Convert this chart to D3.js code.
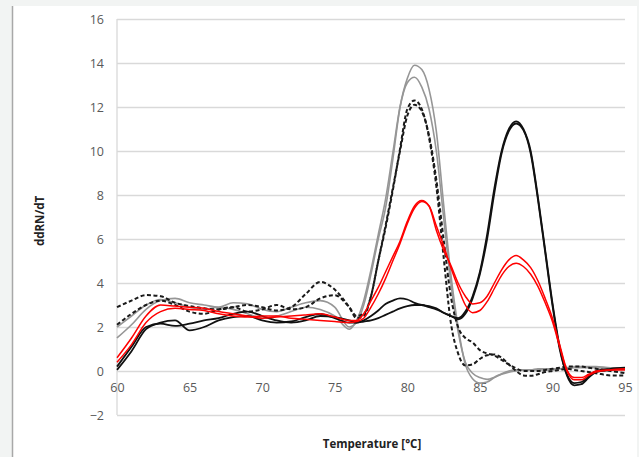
<!DOCTYPE html>
<html><head><meta charset="utf-8">
<script src="https://cdn.jsdelivr.net/npm/d3@7"></script>
<style>
html,body{margin:0;padding:0;background:#f2f4f3;}
svg{display:block;}
</style></head>
<body>
<svg id="c" width="639" height="457"></svg>
<script>
const temps = [60,61,62,63,64,65,66,67,68,69,70,71,72,73,74,75,76,
  76.5,77,77.5,78,78.5,79,79.5,80,80.5,81,81.5,82,82.5,83,83.5,84,84.5,85,85.5,86,86.5,87,87.5,88,88.5,89,89.5,90,90.5,91,91.5,92,92.5,93,
  94,95];
const xTicks = [60,65,70,75,80,85,90,95];
const yTicks = [-2,0,2,4,6,8,10,12,14,16];

const gray1 = [1.5,2.1,2.8,3.2,3.3,3.1,3.0,2.9,3.1,3.05,2.8,2.7,2.9,3.1,3.2,2.9,2.0,
  2.2,3.0,4.4,6.0,7.4,9.6,12.0,13.3,13.9,13.7,12.8,10.9,7.6,4.4,2.0,0.3,-0.35,-0.55,-0.5,-0.3,-0.15,-0.05,0.0,0.05,0.05,0.05,0.05,0.05,0.1,0.1,0.15,0.15,0.15,0.15,
  0.1,0.1];
const gray2 = [2.0,2.5,3.0,3.25,3.1,2.9,2.8,2.9,2.8,2.6,2.4,2.5,2.7,2.9,2.8,2.5,1.9,
  2.3,3.2,4.6,6.2,7.8,9.9,12.0,13.1,13.35,12.9,11.9,10.0,7.0,4.0,1.8,0.4,-0.1,-0.3,-0.38,-0.28,-0.12,0.0,0.05,0.05,0.05,0.1,0.1,0.1,0.1,0.15,0.2,0.2,0.2,0.2,
  0.15,0.15];
const dashed1 = [2.9,3.2,3.45,3.4,3.1,2.95,2.85,2.8,2.9,3.0,2.9,2.75,2.9,3.5,4.05,3.7,2.9,
  2.4,2.5,3.4,5.0,6.5,8.2,10.1,11.9,12.3,11.9,10.6,8.4,5.2,2.2,0.8,0.25,0.3,0.55,0.72,0.75,0.6,0.3,0.0,-0.2,-0.22,-0.15,-0.05,0.0,0.05,0.1,0.05,0.0,-0.05,-0.1,
  -0.2,-0.2];
const dashed2 = [2.1,2.6,3.0,3.2,3.0,2.7,2.6,2.8,2.9,2.7,2.8,3.0,2.8,2.9,3.3,3.45,2.9,
  2.5,2.6,3.4,5.0,6.6,8.3,10.0,11.6,12.1,11.8,10.7,8.7,6.0,3.4,2.0,1.5,1.3,0.95,0.8,0.7,0.5,0.3,0.12,0.0,0.0,0.0,0.05,0.1,0.15,0.2,0.2,0.2,0.15,0.1,
  0.0,-0.1];
const black1 = [0.05,0.9,1.9,2.2,2.3,1.85,2.0,2.3,2.45,2.5,2.3,2.2,2.25,2.45,2.6,2.4,2.2,
  2.2,2.3,2.5,2.75,3.05,3.2,3.3,3.25,3.1,3.0,2.95,2.85,2.65,2.5,2.4,2.7,3.4,4.5,6.2,8.3,10.0,11.0,11.35,11.0,10.0,7.9,5.5,3.1,1.1,-0.2,-0.65,-0.6,-0.3,-0.05,
  0.05,0.1];
const black2 = [0.2,1.1,2.0,2.15,2.05,2.15,2.3,2.4,2.6,2.7,2.5,2.3,2.2,2.3,2.5,2.45,2.3,
  2.2,2.25,2.3,2.4,2.55,2.7,2.85,2.95,3.0,3.0,2.9,2.8,2.65,2.5,2.35,2.6,3.3,4.4,6.0,8.1,9.9,10.9,11.25,10.95,9.9,7.8,5.4,3.0,1.0,-0.15,-0.55,-0.5,-0.25,0.0,
  0.1,0.15];
const red1 = [0.6,1.5,2.5,3.0,2.95,2.9,2.85,2.7,2.6,2.5,2.4,2.45,2.5,2.55,2.6,2.45,2.3,
  2.3,2.6,3.2,3.8,4.5,5.2,5.9,6.8,7.5,7.75,7.5,6.4,5.5,4.8,4.0,3.4,3.05,3.1,3.4,4.0,4.6,5.05,5.25,5.05,4.7,4.1,3.3,2.4,1.2,0.05,-0.3,-0.3,-0.15,0.0,
  0.05,0.05];
const red2 = [0.4,1.2,2.2,2.7,2.85,2.8,2.75,2.6,2.5,2.45,2.5,2.5,2.4,2.35,2.3,2.25,2.2,
  2.25,2.4,2.9,3.5,4.2,5.0,5.8,6.7,7.4,7.7,7.5,6.6,5.7,4.7,3.8,3.0,2.65,2.75,3.15,3.75,4.35,4.75,4.9,4.75,4.4,3.85,3.1,2.25,1.1,0.0,-0.4,-0.4,-0.2,-0.05,
  0.05,0.1];

const series = [
  {v: gray1, color: "#969696", w: 1.6, dash: null},
  {v: gray2, color: "#969696", w: 1.6, dash: null},
  {v: dashed1, color: "#1a1a1a", w: 2, dash: "4,2.5"},
  {v: dashed2, color: "#1a1a1a", w: 2, dash: "4,2.5"},
  {v: black1, color: "#111111", w: 1.8, dash: null},
  {v: black2, color: "#111111", w: 1.8, dash: null},
  {v: red1, color: "#ff0000", w: 1.5, dash: null},
  {v: red2, color: "#ff0000", w: 1.5, dash: null}
];

const svg = d3.select("#c");
svg.append("rect").attr("x",13).attr("y",6).attr("width",624).attr("height",451).attr("fill","#ffffff");
svg.append("line").attr("x1",12.5).attr("x2",12.5).attr("y1",6).attr("y2",457).attr("stroke","#a8a8a8").attr("stroke-width",1.5);

const x = d3.scaleLinear().domain([60,95]).range([117,625]);
const y = d3.scaleLinear().domain([-2,16]).range([415,19]);

const ya = svg.append("g").attr("transform","translate(117,0)")
  .call(d3.axisLeft(y).tickValues(yTicks).tickSize(-(625-117)).tickPadding(13).tickFormat(d3.format("d")));
ya.select(".domain").remove();
ya.selectAll(".tick line").attr("stroke","#d9d9d9").attr("stroke-width",1.3);
ya.selectAll(".tick text").attr("fill","#595959").style("font-family","'Open Sans', sans-serif").style("font-size","12.5px");
svg.append("line").attr("x1",117).attr("x2",117).attr("y1",y(16)).attr("y2",y(-2)).attr("stroke","#d9d9d9").attr("stroke-width",1.3);

const xa = svg.append("g").attr("transform",`translate(0,${y(0)})`)
  .call(d3.axisBottom(x).tickValues(xTicks).tickSize(0).tickPadding(12).tickFormat(d3.format("d")));
xa.select(".domain").remove();
xa.selectAll(".tick text").attr("fill","#595959").style("font-family","'Open Sans', sans-serif").style("font-size","12.5px");

const line = d3.line().x((d,i)=>x(temps[i])).y(d=>y(d)).curve(d3.curveMonotoneX);
series.forEach(s=>{
  svg.append("path").datum(s.v).attr("d",line).attr("fill","none")
    .attr("stroke",s.color).attr("stroke-width",s.w)
    .attr("stroke-dasharray",s.dash).attr("stroke-linejoin","round");
});

svg.append("text").attr("transform","translate(44,221) rotate(-90)").attr("text-anchor","middle")
  .style("font-family","'Open Sans', sans-serif").style("font-weight","bold").style("font-size","11.5px").attr("fill","#222")
  .text("ddRN/dT");
svg.append("text").attr("x",372).attr("y",448).attr("text-anchor","middle")
  .style("font-family","'Open Sans', sans-serif").style("font-weight","bold").style("font-size","11.5px").attr("fill","#222")
  .text("Temperature [°C]");
</script>
</body></html>
